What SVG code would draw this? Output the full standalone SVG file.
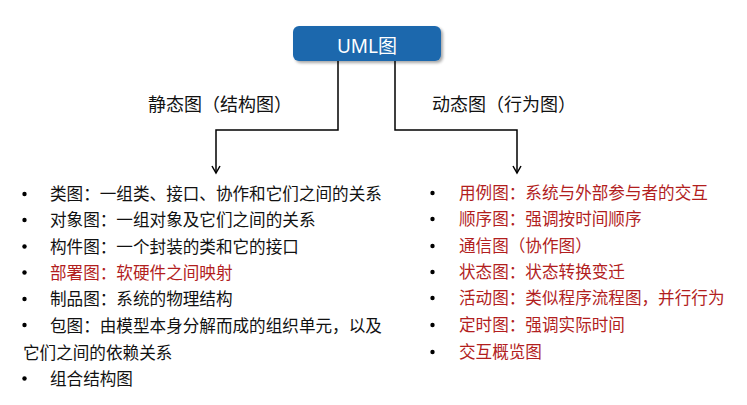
<svg xmlns="http://www.w3.org/2000/svg" width="747" height="405" viewBox="0 0 747 405">
<defs>
<style>
.t{font-family:"Noto Sans CJK SC","Noto Sans",sans-serif;font-size:16.6px;fill:#111}
.r{fill:#b21e1e}
.h{font-family:"Noto Sans CJK SC","Noto Sans",sans-serif;font-size:18px;fill:#111}
.ln{fill:none;stroke:#000;stroke-width:1.5}
.b{fill:#000}
</style>
<marker id="ar" markerWidth="10" markerHeight="10" refX="8" refY="5" orient="auto" markerUnits="userSpaceOnUse" viewBox="0 0 10 10">
<polyline points="1,1 8,5 1,9" fill="none" stroke="#000" stroke-width="1.5"/>
</marker>
<filter id="sh" x="-10%" y="-20%" width="130%" height="160%">
<feGaussianBlur in="SourceAlpha" stdDeviation="1.5"/>
<feOffset dx="1.5" dy="2" result="o"/>
<feComponentTransfer><feFuncA type="linear" slope="0.35"/></feComponentTransfer>
<feMerge><feMergeNode/><feMergeNode in="SourceGraphic"/></feMerge>
</filter>
</defs>
<rect width="747" height="405" fill="#fff"/>
<g id="root">
<rect x="293" y="26" width="148" height="35" rx="6" fill="#1f68ad" filter="url(#sh)"/>
<text x="367" y="53" text-anchor="middle" font-family="'Noto Sans','Noto Sans CJK SC',sans-serif" font-size="19" fill="#fff">UML图</text>
</g>
<g id="connectors">
<polyline class="ln" points="338,61 338,130 216,130 216,173" marker-end="url(#ar)"/>
<polyline class="ln" points="395,61 395,130 517,130 517,173" marker-end="url(#ar)"/>
</g>
<g id="label-static"><text class="h" x="148" y="111">静态图（结构图）</text></g>
<g id="label-dynamic"><text class="h" x="432" y="111">动态图（行为图）</text></g>
<g id="static-list">
<circle class="b" cx="24.5" cy="194" r="2.2"/><text class="t" x="50" y="200">类图：一组类、接口、协作和它们之间的关系</text>
<circle class="b" cx="24.5" cy="220" r="2.2"/><text class="t" x="50" y="226">对象图：一组对象及它们之间的关系</text>
<circle class="b" cx="24.5" cy="246.5" r="2.2"/><text class="t" x="50" y="252.5">构件图：一个封装的类和它的接口</text>
<circle class="b" cx="24.5" cy="272.5" r="2.2"/><text class="t r" x="50" y="278.5">部署图：软硬件之间映射</text>
<circle class="b" cx="24.5" cy="299" r="2.2"/><text class="t" x="50" y="305">制品图：系统的物理结构</text>
<circle class="b" cx="24.5" cy="325" r="2.2"/><text class="t" x="50" y="331.5">包图：由模型本身分解而成的组织单元，以及</text>
<text class="t" x="23" y="358.5">它们之间的依赖关系</text>
<circle class="b" cx="24.5" cy="378.5" r="2.2"/><text class="t" x="50" y="384.5">组合结构图</text>
</g>
<g id="dynamic-list">
<circle class="b" cx="432.5" cy="193" r="2.2"/><text class="t r" x="459" y="199">用例图：系统与外部参与者的交互</text>
<circle class="b" cx="432.5" cy="219" r="2.2"/><text class="t r" x="459" y="225">顺序图：强调按时间顺序</text>
<circle class="b" cx="432.5" cy="246" r="2.2"/><text class="t r" x="459" y="252">通信图（协作图）</text>
<circle class="b" cx="432.5" cy="272" r="2.2"/><text class="t r" x="459" y="278">状态图：状态转换变迁</text>
<circle class="b" cx="432.5" cy="298" r="2.2"/><text class="t r" x="459" y="304">活动图：类似程序流程图，并行行为</text>
<circle class="b" cx="432.5" cy="325" r="2.2"/><text class="t r" x="459" y="331">定时图：强调实际时间</text>
<circle class="b" cx="432.5" cy="352" r="2.2"/><text class="t r" x="459" y="358">交互概览图</text>
</g>
</svg>
